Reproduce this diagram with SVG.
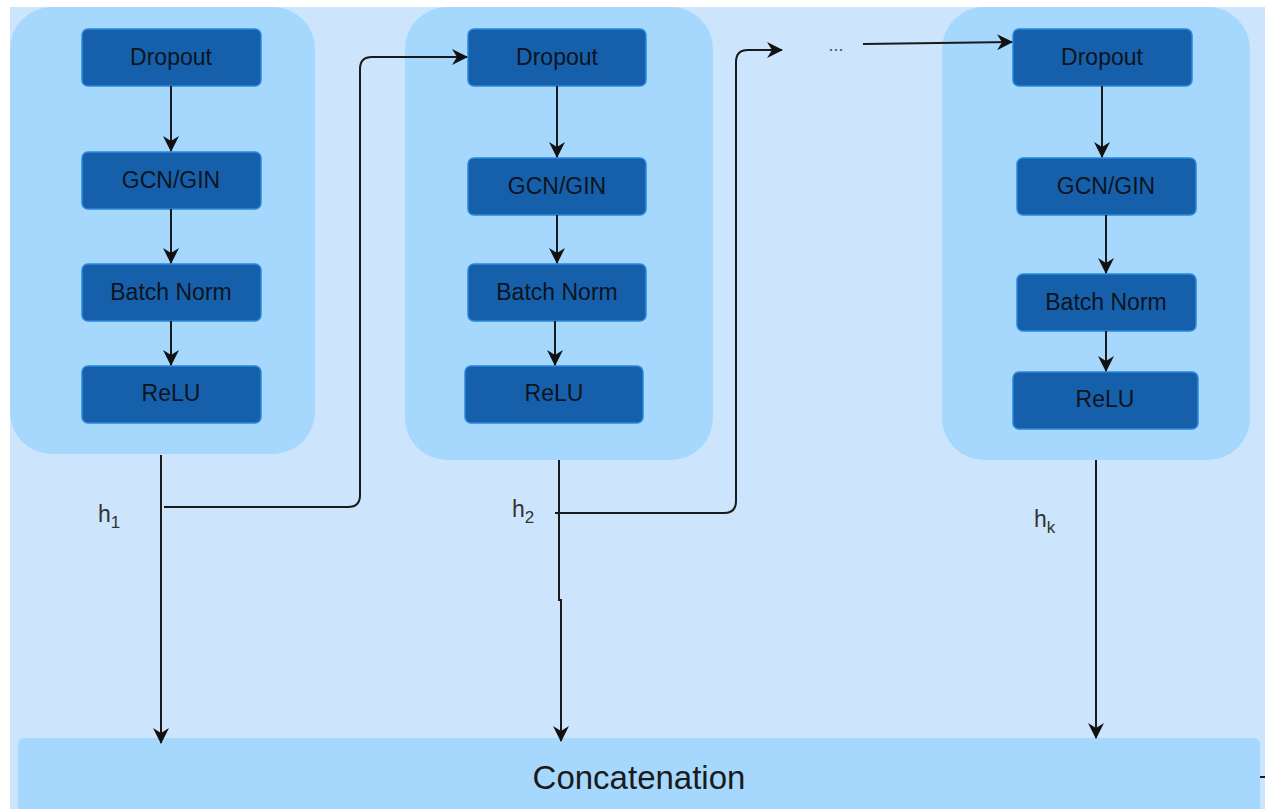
<svg xmlns="http://www.w3.org/2000/svg" width="1265" height="809" viewBox="0 0 1265 809">
  <defs>
    <marker id="arr" viewBox="0 0 16 16" refX="15" refY="8" markerWidth="16" markerHeight="16" markerUnits="userSpaceOnUse" orient="auto">
      <path d="M0 0 L16 8 L0 16 L5 8 Z" fill="#111"/>
    </marker>
    <style>
      .stage { fill: #a6d8fd; }
      .op { fill: #1660ab; stroke: #2b86dc; stroke-width: 1.5; }
      .op-t { font-family: "Liberation Sans", Arial, sans-serif; font-size: 23px; fill: #0c1420; text-anchor: middle; }
      .lbl { font-family: "Liberation Sans", Arial, sans-serif; font-size: 23px; fill: #333; }
      .sub { font-size: 17px; }
      .edge { fill: none; stroke: #1a1a1a; stroke-width: 2; }
      .edge-a { fill: none; stroke: #1a1a1a; stroke-width: 2; marker-end: url(#arr); }
    </style>
  </defs>

  <!-- canvas -->
  <rect x="0" y="0" width="1265" height="809" fill="#ffffff"/>
  <rect x="10" y="7" width="1255" height="802" fill="#cce5fc"/>

  <!-- layer 1 -->
  <g id="layer1">
    <rect class="stage" x="10" y="7" width="305" height="447" rx="42"/>
    <g id="l1-dropout"><rect class="op" x="82" y="29" width="179" height="57" rx="6"/><text class="op-t" x="171" y="65">Dropout</text></g>
    <g id="l1-gcn"><rect class="op" x="82" y="152" width="179" height="57" rx="6"/><text class="op-t" x="171" y="188">GCN/GIN</text></g>
    <g id="l1-bn"><rect class="op" x="82" y="264" width="179" height="57" rx="6"/><text class="op-t" x="171" y="300">Batch Norm</text></g>
    <g id="l1-relu"><rect class="op" x="82" y="366" width="179" height="57" rx="6"/><text class="op-t" x="171" y="401">ReLU</text></g>
  </g>

  <!-- layer 2 -->
  <g id="layer2">
    <rect class="stage" x="405" y="7" width="308" height="453" rx="42"/>
    <g id="l2-dropout"><rect class="op" x="468" y="29" width="178" height="57" rx="6"/><text class="op-t" x="557" y="65">Dropout</text></g>
    <g id="l2-gcn"><rect class="op" x="468" y="158" width="178" height="57" rx="6"/><text class="op-t" x="557" y="194">GCN/GIN</text></g>
    <g id="l2-bn"><rect class="op" x="468" y="264" width="178" height="57" rx="6"/><text class="op-t" x="557" y="300">Batch Norm</text></g>
    <g id="l2-relu"><rect class="op" x="465" y="366" width="178" height="57" rx="6"/><text class="op-t" x="554" y="401">ReLU</text></g>
  </g>

  <!-- layer k -->
  <g id="layerk">
    <rect class="stage" x="942" y="7" width="308" height="453" rx="42"/>
    <g id="lk-dropout"><rect class="op" x="1013" y="29" width="179" height="57" rx="6"/><text class="op-t" x="1102" y="65">Dropout</text></g>
    <g id="lk-gcn"><rect class="op" x="1017" y="158" width="179" height="57" rx="6"/><text class="op-t" x="1106" y="194">GCN/GIN</text></g>
    <g id="lk-bn"><rect class="op" x="1017" y="274" width="179" height="57" rx="6"/><text class="op-t" x="1106" y="310">Batch Norm</text></g>
    <g id="lk-relu"><rect class="op" x="1013" y="372" width="185" height="57" rx="6"/><text class="op-t" x="1105" y="407">ReLU</text></g>
  </g>

  <!-- concatenation -->
  <g id="concat">
    <path d="M18 809 V745 Q18 738 25 738 H1253 Q1260 738 1260 745 V809 Z" fill="#a6d8fd"/>
    <text x="639" y="789" font-family="'Liberation Sans', Arial, sans-serif" font-size="33" fill="#1a1a1a" text-anchor="middle">Concatenation</text>
  </g>

  <!-- connectors -->
  <g id="connectors">
    <!-- inside layer 1 -->
    <path class="edge-a" d="M171 86 V151"/>
    <path class="edge-a" d="M171 209 V263"/>
    <path class="edge-a" d="M171 321 V365"/>
    <!-- inside layer 2 -->
    <path class="edge-a" d="M557 86 V157"/>
    <path class="edge-a" d="M557 215 V263"/>
    <path class="edge-a" d="M555 321 V365"/>
    <!-- inside layer k -->
    <path class="edge-a" d="M1102 86 V157"/>
    <path class="edge-a" d="M1106 215 V273"/>
    <path class="edge-a" d="M1106 331 V371"/>

    <!-- outputs to concatenation -->
    <path class="edge-a" d="M161 455 V743"/>
    <path class="edge-a" d="M559 460 V600 H561 V741"/>
    <path class="edge-a" d="M1096 460 V738"/>

    <!-- skip paths to next layer -->
    <path class="edge-a" d="M164 507 H348 Q360 507 360 495 V69 Q360 57 372 57 H467"/>
    <path class="edge-a" d="M555 513 H724 Q736 513 736 501 V62 Q736 50 748 50 H782"/>
    <path class="edge-a" d="M863 44 L1012 42"/>
    <path class="edge" d="M1260 777 H1265" stroke="#666"/>
  </g>

  <!-- labels -->
  <g id="labels">
    <text class="lbl" x="98" y="522">h<tspan class="sub" dy="6">1</tspan></text>
    <text class="lbl" x="512" y="517">h<tspan class="sub" dy="6">2</tspan></text>
    <text class="lbl" x="1034" y="527">h<tspan class="sub" dy="6">k</tspan></text>
    <text x="836" y="51" font-family="'Liberation Sans', Arial, sans-serif" font-size="18" fill="#555" text-anchor="middle">...</text>
  </g>
</svg>
